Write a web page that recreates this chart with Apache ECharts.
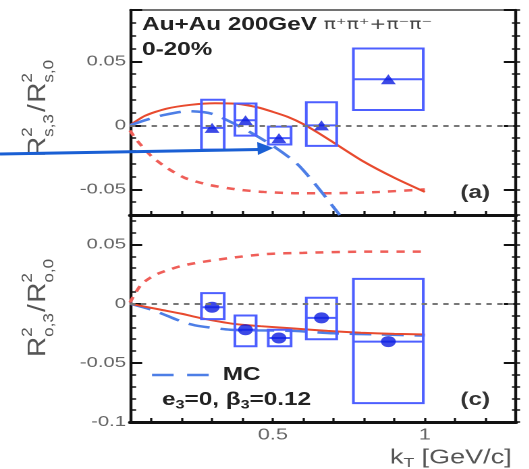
<!DOCTYPE html>
<html><head><meta charset="utf-8">
<script src="https://cdn.jsdelivr.net/npm/echarts@6/dist/echarts.min.js"></script>
<style>
html,body{margin:0;padding:0;background:#fff;overflow:hidden;width:529px;height:469px}
#c{width:392px;height:469px;transform:scaleX(1.35);transform-origin:0 0;}
</style>
</head><body><div id="c"></div>
<script>
// ---------- data ----------
const kT     = [0.30, 0.41, 0.52, 0.66, 0.88];
const kTLow  = [0.265, 0.375, 0.485, 0.61, 0.765];
const kTHigh = [0.34, 0.445, 0.56, 0.71, 0.995];

// panel (a): R^2_{s,3}/R^2_{s,0}
const aVal  = [-0.002, 0.004, -0.010, 0.000, 0.036];
const aLow  = [-0.019, -0.008, -0.015, -0.016, 0.012];
const aHigh = [0.020, 0.017, -0.001, 0.018, 0.060];

// panel (c): R^2_{o,3}/R^2_{o,0}
const cVal  = [-0.003, -0.022, -0.029, -0.012, -0.032];
const cLow  = [-0.013, -0.036, -0.036, -0.030, -0.084];
const cHigh = [0.009, -0.010, -0.022, 0.005, 0.021];

// model curves, panel (a)
const aSolidX = [0.03, 0.08, 0.15, 0.23, 0.31, 0.38, 0.45, 0.5, 0.55, 0.6, 0.65, 0.7, 0.8, 0.9, 1.0];
const aSolidY = [0.000, 0.0075, 0.0130, 0.0160, 0.0172, 0.0168, 0.0140, 0.0105, 0.0065, 0.0010, -0.0060, -0.0135, -0.0285, -0.0410, -0.0520];
const aDashX  = [0.03, 0.05, 0.1, 0.15, 0.21, 0.29, 0.38, 0.47, 0.58, 0.7, 0.85, 1.0];
const aDashY  = [-0.004, -0.011, -0.024, -0.033, -0.041, -0.0465, -0.050, -0.052, -0.053, -0.053, -0.052, -0.050];
const aMCX    = [0.03, 0.08, 0.14, 0.22, 0.3, 0.375, 0.43, 0.5, 0.57, 0.6, 0.65, 0.7, 0.72];
const aMCY    = [0.000, 0.004, 0.008, 0.011, 0.009, 0.001, -0.006, -0.016, -0.028, -0.035, -0.049, -0.064, -0.070];

// model curves, panel (c)
const cSolidX = [0.03, 0.13, 0.2, 0.26, 0.37, 0.46, 0.57, 0.68, 0.79, 0.9, 1.0];
const cSolidY = [0.000, -0.005, -0.0085, -0.012, -0.017, -0.019, -0.021, -0.023, -0.0245, -0.0255, -0.026];
const cDashX  = [0.03, 0.05, 0.07, 0.11, 0.15, 0.2, 0.26, 0.37, 0.48, 0.6, 0.8, 1.0];
const cDashY  = [0.001, 0.010, 0.017, 0.024, 0.028, 0.032, 0.035, 0.039, 0.042, 0.043, 0.044, 0.044];
const cMCX    = [0.03, 0.1, 0.15, 0.21, 0.26, 0.36, 0.45, 0.57, 0.7, 0.85, 1.0];
const cMCY    = [0.000, -0.005, -0.010, -0.016, -0.019, -0.022, -0.0225, -0.023, -0.025, -0.026, -0.027];

// tick labels and tick steps
const xLabels = [0.5, 1];
const aYTicks = [-0.05, 0, 0.05];
const cYTicks = [-0.1, -0.05, 0, 0.05];
const X_STEP = 0.1, Y_MAJOR = 0.05, Y_MINOR = 0.01;

// ---------- styling ----------
const FONT = 'Liberation Sans, Arial, sans-serif';
const AX = '#111';
const CLEAR = 'rgba(0,0,0,0)';
const RED = '#e84a2e';
const RED_D = '#ef5e58';
const BLUE_MC = '#4d7ee6';
const BOX = '#4d5fff';
const MARK = '#0b1be0';
const X_MIN = 0.03, X_MAX = 1.3;
const A_MIN = -0.07, A_MAX = 0.09;
const C_MIN = -0.1, C_MAX = 0.075;

// panel geometry (in the unstretched 392px-wide canvas)
const G_LEFT = 96.3, G_W = 285.9, A_TOP = 10, A_H = 205, C_TOP = 215, C_H = 207;
const PX_PER_X = G_W / (X_MAX - X_MIN);
const PX_PER_A = A_H / (A_MAX - A_MIN);
// helper grids that share the panels' scales but start at a tick-aligned value
const XT_MIN = 0.1;
const XT_LEFT = G_LEFT + (XT_MIN - X_MIN) * PX_PER_X;
const XT_W = (X_MAX - XT_MIN) * PX_PER_X;
const AT_MIN = -0.05;
const AT_H = (A_MAX - AT_MIN) * PX_PER_A;

const pairs = (xs, ys) => xs.map((x, i) => [x, ys[i]]);
const fmt = v => (v === 0 ? '0' : String(v));

function xAx(grid, pos, opt) {
  return Object.assign({
    type: 'value', gridIndex: grid, position: pos, min: X_MIN, max: X_MAX,
    splitLine: { show: false },
    axisLine: { show: true, onZero: false, lineStyle: { color: AX, width: 3 } },
    axisTick: { show: false },
    axisLabel: { show: false }
  }, opt);
}
function yAx(grid, pos, min, max, opt) {
  return Object.assign({
    type: 'value', gridIndex: grid, position: pos, min: min, max: max, offset: 0,
    splitLine: { show: false },
    axisLine: { show: true, onZero: false, lineStyle: { color: AX, width: 2.2 } },
    axisTick: { show: false },
    axisLabel: { show: false }
  }, opt);
}
function tickAx(grid, pos, min, max, interval, inside, len, width) {
  return {
    type: 'value', gridIndex: grid, position: pos, min: min, max: max, interval: interval, offset: 0,
    splitLine: { show: false }, axisLabel: { show: false },
    axisLine: { show: true, onZero: false, lineStyle: { color: CLEAR, width: 1 } },
    axisTick: { show: true, inside: inside, length: len, lineStyle: { color: AX, width: width } }
  };
}
function hiddenAx(grid) {
  return { type: 'value', gridIndex: grid, min: 0, max: 1, show: false, splitLine: { show: false } };
}
function yLab(vals) { return { show: true, customValues: vals, formatter: fmt, fontSize: 15, fontFamily: FONT, color: '#666', margin: 3, showMinLabel: true, showMaxLabel: true }; }

function renderBox(params, api) {
  const x0 = api.value(0), x1 = api.value(1), y0 = api.value(2), y1 = api.value(3), ym = api.value(4);
  const p0 = api.coord([x0, y1]);
  const p1 = api.coord([x1, y0]);
  const m0 = api.coord([x0, ym]);
  const m1 = api.coord([x1, ym]);
  return {
    type: 'group',
    children: [
      { type: 'rect', shape: { x: p0[0], y: p0[1], width: p1[0] - p0[0], height: p1[1] - p0[1] },
        style: { fill: 'none', stroke: BOX, lineWidth: 2 } },
      { type: 'line', shape: { x1: m0[0], y1: m0[1], x2: m1[0], y2: m1[1] },
        style: { stroke: BOX, lineWidth: 2 } }
    ]
  };
}
const zeroLine = {
  silent: true, symbol: 'none', label: { show: false },
  lineStyle: { type: [4, 4], color: '#777', width: 2 },
  data: [{ yAxis: 0 }]
};
function curve(xi, yi, xs, ys, color, type, width) {
  return { type: 'line', xAxisIndex: xi, yAxisIndex: yi, data: pairs(xs, ys), showSymbol: false, smooth: 0.25,
    lineStyle: { color: color, type: type, width: width }, z: 2, silent: true };
}

function yTitle(y0, sub) {
  const st = (t, fs) => ({ text: t, fontSize: fs, fontFamily: FONT, fill: '#555', align: 'left', verticalAlign: 'middle' });
  return {
    type: 'group', x: 28.5, y: y0, rotation: Math.PI / 2, scaleX: 1.55, z: 10,
    children: [
      { type: 'text', x: 0, y: 0, style: st('R', 18) },
      { type: 'text', x: 13, y: -8, style: st('2', 11) },
      { type: 'text', x: 13, y: 8, style: st(sub + ',3', 11) },
      { type: 'text', x: 29, y: 0, style: st('/', 18) },
      { type: 'text', x: 35, y: 0, style: st('R', 18) },
      { type: 'text', x: 48, y: -8, style: st('2', 11) },
      { type: 'text', x: 48, y: 8, style: st(sub + ',0', 11) }
    ]
  };
}

const option = {
  animation: false,
  backgroundColor: '#fff',
  grid: [
    { left: G_LEFT, top: A_TOP, width: G_W, height: A_H },       // 0 panel (a)
    { left: G_LEFT, top: C_TOP, width: G_W, height: C_H },       // 1 panel (c)
    { left: G_LEFT, top: A_TOP, width: G_W, height: AT_H },      // 2 major y ticks of (a)
    { left: XT_LEFT, top: A_TOP, width: XT_W, height: A_H },     // 3 x ticks of (a)
    { left: XT_LEFT, top: C_TOP, width: XT_W, height: C_H }      // 4 x ticks of (c)
  ],
  xAxis: [
    xAx(0, 'bottom'),                                                                                   // 0
    xAx(0, 'top', { axisLine: { show: true, onZero: false, lineStyle: { color: '#444', width: 1.5 } } }), // 1
    xAx(1, 'bottom', { axisLabel: { show: true, customValues: xLabels, formatter: fmt, fontSize: 16, fontFamily: FONT, color: '#666', margin: 5 } }), // 2
    hiddenAx(2),                                                                                        // 3
    tickAx(3, 'bottom', XT_MIN, X_MAX, X_STEP, true, 4, 1.6),                                           // 4
    tickAx(4, 'bottom', XT_MIN, X_MAX, X_STEP, true, 4, 1.6)                                            // 5
  ],
  yAxis: [
    yAx(0, 'left', A_MIN, A_MAX, { axisLabel: yLab(aYTicks) }),        // 0
    yAx(0, 'right', A_MIN, A_MAX),                                     // 1
    tickAx(0, 'left', A_MIN, A_MAX, Y_MINOR, true, 4.5, 1.5),          // 2
    tickAx(0, 'right', A_MIN, A_MAX, Y_MINOR, true, 3, 1.5),           // 3
    tickAx(0, 'right', A_MIN, A_MAX, Y_MINOR, false, 3, 1.5),          // 4
    yAx(1, 'left', C_MIN, C_MAX, { axisLabel: yLab(cYTicks) }),        // 5
    yAx(1, 'right', C_MIN, C_MAX),                                     // 6
    tickAx(1, 'left', C_MIN, C_MAX, Y_MINOR, true, 4.5, 1.5),          // 7
    tickAx(1, 'right', C_MIN, C_MAX, Y_MINOR, true, 3, 1.5),           // 8
    tickAx(1, 'right', C_MIN, C_MAX, Y_MINOR, false, 3, 1.5),          // 9
    tickAx(1, 'left', C_MIN, C_MAX, Y_MAJOR, true, 9, 2),              // 10
    tickAx(1, 'right', C_MIN, C_MAX, Y_MAJOR, true, 9, 2),             // 11
    tickAx(2, 'left', AT_MIN, A_MAX, Y_MAJOR, true, 9, 2),             // 12
    tickAx(2, 'right', AT_MIN, A_MAX, Y_MAJOR, true, 9, 2),            // 13
    hiddenAx(3),                                                       // 14
    hiddenAx(4)                                                        // 15
  ],
  series: [
    // panel (a)
    curve(0, 0, aDashX, aDashY, RED_D, [6, 6], 2.5),
    curve(0, 0, aSolidX, aSolidY, RED, 'solid', 2),
    curve(0, 0, aMCX, aMCY, BLUE_MC, [16, 8], 2.5),
    { type: 'custom', xAxisIndex: 0, yAxisIndex: 0, renderItem: renderBox, z: 3, silent: true,
      encode: { x: [0, 1], y: [2, 3, 4] },
      data: kT.map((_, i) => [kTLow[i], kTHigh[i], aLow[i], aHigh[i], aVal[i]]) },
    { type: 'scatter', xAxisIndex: 0, yAxisIndex: 0, symbol: 'triangle', symbolSize: [11, 10], z: 4,
      itemStyle: { color: MARK }, data: pairs(kT, aVal), markLine: zeroLine },
    // panel (c)
    curve(2, 5, cDashX, cDashY, RED_D, [6, 6], 2.5),
    curve(2, 5, cMCX, cMCY, BLUE_MC, [16, 8], 2.5),
    curve(2, 5, cSolidX, cSolidY, RED, 'solid', 2),
    { type: 'custom', xAxisIndex: 2, yAxisIndex: 5, renderItem: renderBox, z: 3, silent: true,
      encode: { x: [0, 1], y: [2, 3, 4] },
      data: kT.map((_, i) => [kTLow[i], kTHigh[i], cLow[i], cHigh[i], cVal[i]]) },
    { type: 'scatter', xAxisIndex: 2, yAxisIndex: 5, symbol: 'circle', symbolSize: 11, z: 4,
      itemStyle: { color: MARK }, data: pairs(kT, cVal), markLine: zeroLine }
  ],
  graphic: [
    // header texts
    { type: 'text', x: 105.2, y: 25, z: 10, style: {
        text: '{a|Au+Au 200GeV }{b|π⁺π⁺+π⁻π⁻}', verticalAlign: 'middle', align: 'left',
        rich: { a: { fontSize: 18, fontWeight: 'bold', fontFamily: FONT, fill: '#222' },
                b: { fontSize: 15, fontFamily: 'DejaVu Sans, sans-serif', fill: '#444' } } } },
    { type: 'text', x: 105.2, y: 50, z: 10, style: { text: '0-20%', fontSize: 18, fontWeight: 'bold', fontFamily: FONT, fill: '#222', verticalAlign: 'middle' } },
    { type: 'text', x: 341, y: 193, z: 10, style: { text: '(a)', fontSize: 18, fontWeight: 'bold', fontFamily: FONT, fill: '#333', verticalAlign: 'middle' } },
    { type: 'text', x: 341, y: 400, z: 10, style: { text: '(c)', fontSize: 18, fontWeight: 'bold', fontFamily: FONT, fill: '#333', verticalAlign: 'middle' } },
    // legend in panel (c)
    { type: 'line', z: 10, shape: { x1: 112.6, y1: 375, x2: 155.5, y2: 375 }, style: { stroke: BLUE_MC, lineWidth: 2.5, lineDash: [16, 10] } },
    { type: 'text', x: 165, y: 375, z: 10, style: { text: 'MC', fontSize: 18, fontWeight: 'bold', fontFamily: FONT, fill: '#222', verticalAlign: 'middle' } },
    { type: 'text', x: 120, y: 400, z: 10, style: {
        text: '{m|e}{s|3}{m|=0, β}{s|3}{m|=0.12}', verticalAlign: 'middle',
        rich: { m: { fontSize: 18, fontWeight: 'bold', fontFamily: FONT, fill: '#222', lineHeight: 22 },
                s: { fontSize: 12, fontWeight: 'bold', fontFamily: FONT, fill: '#222', lineHeight: 12, verticalAlign: 'bottom' } } } },
    // x axis title
    { type: 'text', x: 379, y: 458, z: 10, style: {
        text: '{m|k}{s|T}{m| [GeV/c]}', align: 'right', verticalAlign: 'middle',
        rich: { m: { fontSize: 20, fontFamily: FONT, fill: '#555', lineHeight: 24 },
                s: { fontSize: 13, fontFamily: FONT, fill: '#555', lineHeight: 13, verticalAlign: 'bottom' } } } },
    // y axis titles
    yTitle(157, 's'),
    yTitle(357, 'o'),
    // annotation arrow
    { type: 'polyline', z: 20, shape: { points: [[0, 154], [192, 149.5]] }, style: { stroke: '#1a5fd4', lineWidth: 3, fill: 'none' } },
    { type: 'polygon', z: 20, shape: { points: [[202.5, 148], [190.5, 142], [191, 155]] }, style: { fill: '#1a5fd4' } }
  ]
};

const chart = echarts.init(document.getElementById('c'), null, { renderer: 'canvas', devicePixelRatio: 2 });
chart.setOption(option);
</script>
</body></html>
